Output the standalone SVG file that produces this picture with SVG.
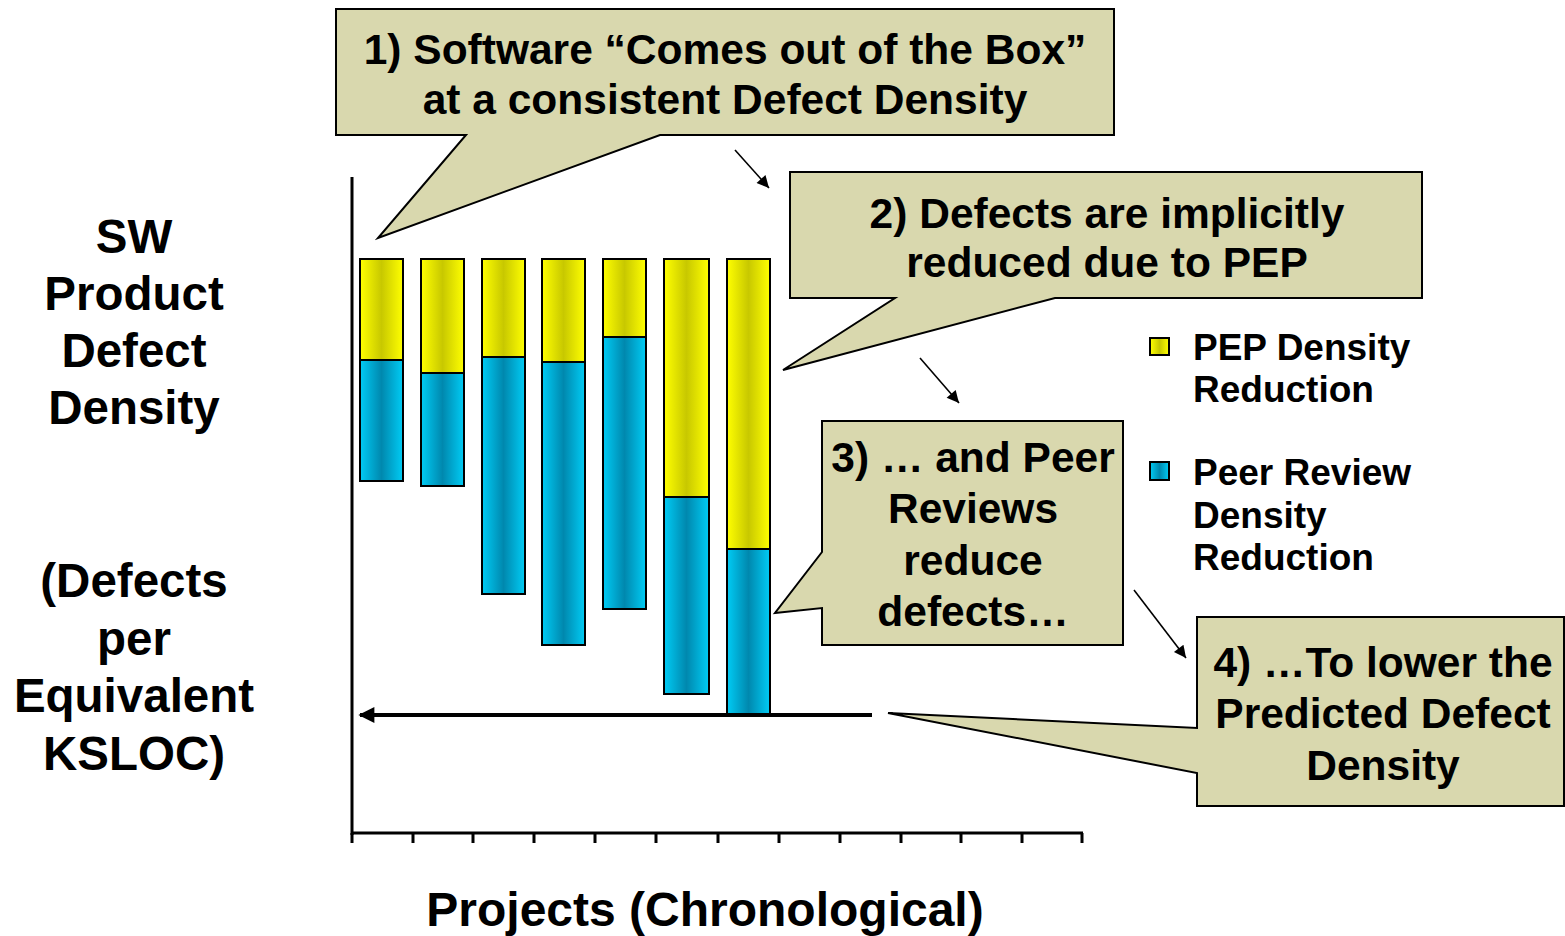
<svg xmlns="http://www.w3.org/2000/svg" width="1565" height="936" viewBox="0 0 1565 936">
<defs>
<linearGradient id="gy" x1="0" y1="0" x2="1" y2="0">
<stop offset="0" stop-color="#FFFF00"/><stop offset="0.5" stop-color="#C8C800"/><stop offset="1" stop-color="#FFFF00"/>
</linearGradient>
<linearGradient id="gb" x1="0" y1="0" x2="1" y2="0">
<stop offset="0" stop-color="#00CCF5"/><stop offset="0.5" stop-color="#0088AE"/><stop offset="1" stop-color="#00CCF5"/>
</linearGradient>
<marker id="ah" viewBox="0 0 10 10" refX="10" refY="5" markerWidth="14" markerHeight="12" markerUnits="userSpaceOnUse" orient="auto">
<path d="M0,0 L10,5 L0,10 Z" fill="#000"/>
</marker>
<marker id="ahs" viewBox="0 0 10 10" refX="9" refY="5" markerWidth="20" markerHeight="16" markerUnits="userSpaceOnUse" orient="auto">
<path d="M0,0 L10,5 L0,10 Z" fill="#000"/>
</marker>
</defs>
<style>
text{font-family:"Liberation Sans",Arial,sans-serif;font-weight:bold;fill:#000}
.call{fill:#D9D8AE;stroke:#000;stroke-width:2;stroke-linejoin:miter}
.ct{font-size:42.5px;text-anchor:middle}
.lab{font-size:47.5px;text-anchor:middle}
.leg{font-size:37px}
.y{fill:url(#gy);stroke:#000;stroke-width:2}
.b{fill:url(#gb);stroke:#000;stroke-width:2}
.ax{stroke:#000;stroke-width:3;fill:none}
.sa{stroke:#000;stroke-width:1.6;fill:none}
</style>
<rect width="1565" height="936" fill="#fff"/>

<g id="y-axis-label">
<text class="lab" x="134" y="253">SW</text>
<text class="lab" x="134" y="310">Product</text>
<text class="lab" x="134" y="367">Defect</text>
<text class="lab" x="134" y="424">Density</text>
<text class="lab" x="134" y="597">(Defects</text>
<text class="lab" x="134" y="655">per</text>
<text class="lab" x="134" y="712">Equivalent</text>
<text class="lab" x="134" y="770">KSLOC)</text>
</g>

<g id="x-axis-label">
<text x="705" y="926" style="font-size:48px;text-anchor:middle">Projects (Chronological)</text>
</g>

<g id="bars">
<rect class="y" x="360" y="259" width="43" height="101"/><rect class="b" x="360" y="360" width="43" height="121"/>
<rect class="y" x="421" y="259" width="43" height="114"/><rect class="b" x="421" y="373" width="43" height="113"/>
<rect class="y" x="482" y="259" width="43" height="98"/><rect class="b" x="482" y="357" width="43" height="237"/>
<rect class="y" x="542" y="259" width="43" height="103"/><rect class="b" x="542" y="362" width="43" height="283"/>
<rect class="y" x="603" y="259" width="43" height="78"/><rect class="b" x="603" y="337" width="43" height="272"/>
<rect class="y" x="664" y="259" width="45" height="238"/><rect class="b" x="664" y="497" width="45" height="197"/>
<rect class="y" x="727" y="259" width="43" height="290"/><rect class="b" x="727" y="549" width="43" height="165"/>
</g>

<g id="axes">
<line class="ax" x1="352" y1="177" x2="352" y2="835"/>
<line class="ax" x1="351" y1="833" x2="1083" y2="833"/>
<path class="ax" d="M352,833V843M413,833V843M473,833V843M534,833V843M595,833V843M656,833V843M718,833V843M779,833V843M840,833V843M901,833V843M961,833V843M1022,833V843M1082,833V843"/>
</g>

<g id="connectors">
<line x1="872" y1="715" x2="360" y2="715" stroke="#000" stroke-width="4" marker-end="url(#ahs)"/>
<line class="sa" x1="735" y1="150" x2="769" y2="188" marker-end="url(#ah)"/>
<line class="sa" x1="920" y1="358" x2="959" y2="403" marker-end="url(#ah)"/>
<line class="sa" x1="1134" y1="590" x2="1186" y2="658" marker-end="url(#ah)"/>
</g>

<g id="callout1">
<path class="call" d="M336,9 H1114 V135 H660 L378,238 L466,135 H336 Z"/>
<text class="ct" x="725" y="64">1) Software “Comes out of the Box”</text>
<text class="ct" x="725" y="114">at a consistent Defect Density</text>
</g>

<g id="callout2">
<path class="call" d="M790,172 H1422 V298 H1055 L783,370 L895,298 H790 Z"/>
<text class="ct" x="1107" y="228">2) Defects are implicitly</text>
<text class="ct" x="1107" y="277">reduced due to PEP</text>
</g>

<g id="callout3">
<path class="call" d="M822,421 H1123 V645 H822 V608 L775,613 L822,552 Z"/>
<text class="ct" x="973" y="472">3) … and Peer</text>
<text class="ct" x="973" y="523">Reviews</text>
<text class="ct" x="973" y="575">reduce</text>
<text class="ct" x="973" y="626">defects…</text>
</g>

<g id="callout4">
<path class="call" d="M1197,617 H1564 V806 H1197 V773 L888,713 L1197,728 Z"/>
<text class="ct" x="1383" y="677">4) …To lower the</text>
<text class="ct" x="1383" y="728">Predicted Defect</text>
<text class="ct" x="1383" y="780">Density</text>
</g>

<g id="legend-pep">
<rect x="1150" y="338" width="19" height="17" fill="url(#gy)" stroke="#000" stroke-width="2"/>
<text class="leg" x="1193" y="360">PEP Density</text>
<text class="leg" x="1193" y="402">Reduction</text>
</g>

<g id="legend-peer">
<rect x="1150" y="462" width="19" height="18" fill="url(#gb)" stroke="#000" stroke-width="2"/>
<text class="leg" x="1193" y="485">Peer Review</text>
<text class="leg" x="1193" y="528">Density</text>
<text class="leg" x="1193" y="570">Reduction</text>
</g>
</svg>
